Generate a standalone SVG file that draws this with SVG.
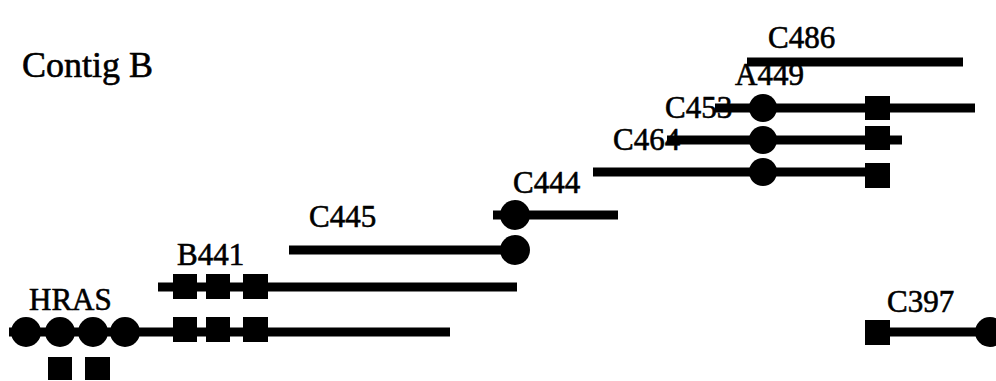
<svg xmlns="http://www.w3.org/2000/svg" width="996" height="381" viewBox="0 0 996 381">
<style>
.t{font-family:"Liberation Serif","Times New Roman",serif;font-size:31px;fill:#000;stroke:#000;stroke-width:0.6}
.ln{stroke:#000;stroke-width:9;fill:none}
.c{fill:#000}
.s{fill:#000}
</style>
<rect width="996" height="381" fill="#fff"/>
<text class="t" x="22" y="77" style="font-size:36px">Contig B</text>
<g id="connectors">
<line class="ln" x1="9" y1="332" x2="450" y2="332"/>
<line class="ln" x1="158" y1="287" x2="517" y2="287"/>
<line class="ln" x1="289" y1="250" x2="515" y2="250"/>
<line class="ln" x1="493" y1="215" x2="618" y2="215"/>
<line class="ln" x1="593" y1="172" x2="890" y2="172"/>
<line class="ln" x1="667" y1="140" x2="902" y2="140"/>
<line class="ln" x1="715" y1="108" x2="975" y2="108"/>
<line class="ln" x1="747" y1="62" x2="963" y2="62"/>
<line class="ln" x1="890" y1="332" x2="990" y2="332"/>
</g>
<g id="HRAS">
<text class="t" x="29" y="310">HRAS</text>
<circle class="c" cx="26" cy="332" r="15"/>
<circle class="c" cx="60" cy="332" r="15"/>
<circle class="c" cx="93" cy="332" r="15"/>
<circle class="c" cx="125" cy="332" r="15"/>
<rect class="s" x="48" y="357" width="24" height="23"/>
<rect class="s" x="85" y="357" width="25" height="23"/>
<rect class="s" x="173" y="317" width="24" height="25"/>
<rect class="s" x="206" y="317" width="24" height="25"/>
<rect class="s" x="243" y="317" width="25" height="25"/>
</g>
<g id="B441">
<text class="t" x="177" y="265">B441</text>
<rect class="s" x="173" y="274" width="24" height="25"/>
<rect class="s" x="206" y="274" width="24" height="25"/>
<rect class="s" x="243" y="274" width="25" height="25"/>
</g>
<g id="C445">
<text class="t" x="309" y="227">C445</text>
<circle class="c" cx="515" cy="250" r="15"/>
</g>
<g id="C444">
<text class="t" x="513" y="193">C444</text>
<circle class="c" cx="515" cy="215" r="15"/>
</g>
<g id="C486">
<text class="t" x="768" y="48">C486</text>
</g>
<g id="A449">
<text class="t" x="735" y="85">A449</text>
<circle class="c" cx="763" cy="108" r="14"/>
<circle class="c" cx="763" cy="140" r="14"/>
<circle class="c" cx="763" cy="172" r="14"/>
<rect class="s" x="865" y="96" width="25" height="24"/>
<rect class="s" x="865" y="126" width="25" height="24"/>
<rect class="s" x="865" y="163" width="25" height="25"/>
</g>
<g id="C453">
<text class="t" x="665" y="118">C453</text>
</g>
<g id="C464">
<text class="t" x="613" y="150">C464</text>
</g>
<g id="C397">
<text class="t" x="887" y="312">C397</text>
<rect class="s" x="865" y="320" width="25" height="25"/>
<circle class="c" cx="990" cy="332" r="15"/>
</g>
</svg>
